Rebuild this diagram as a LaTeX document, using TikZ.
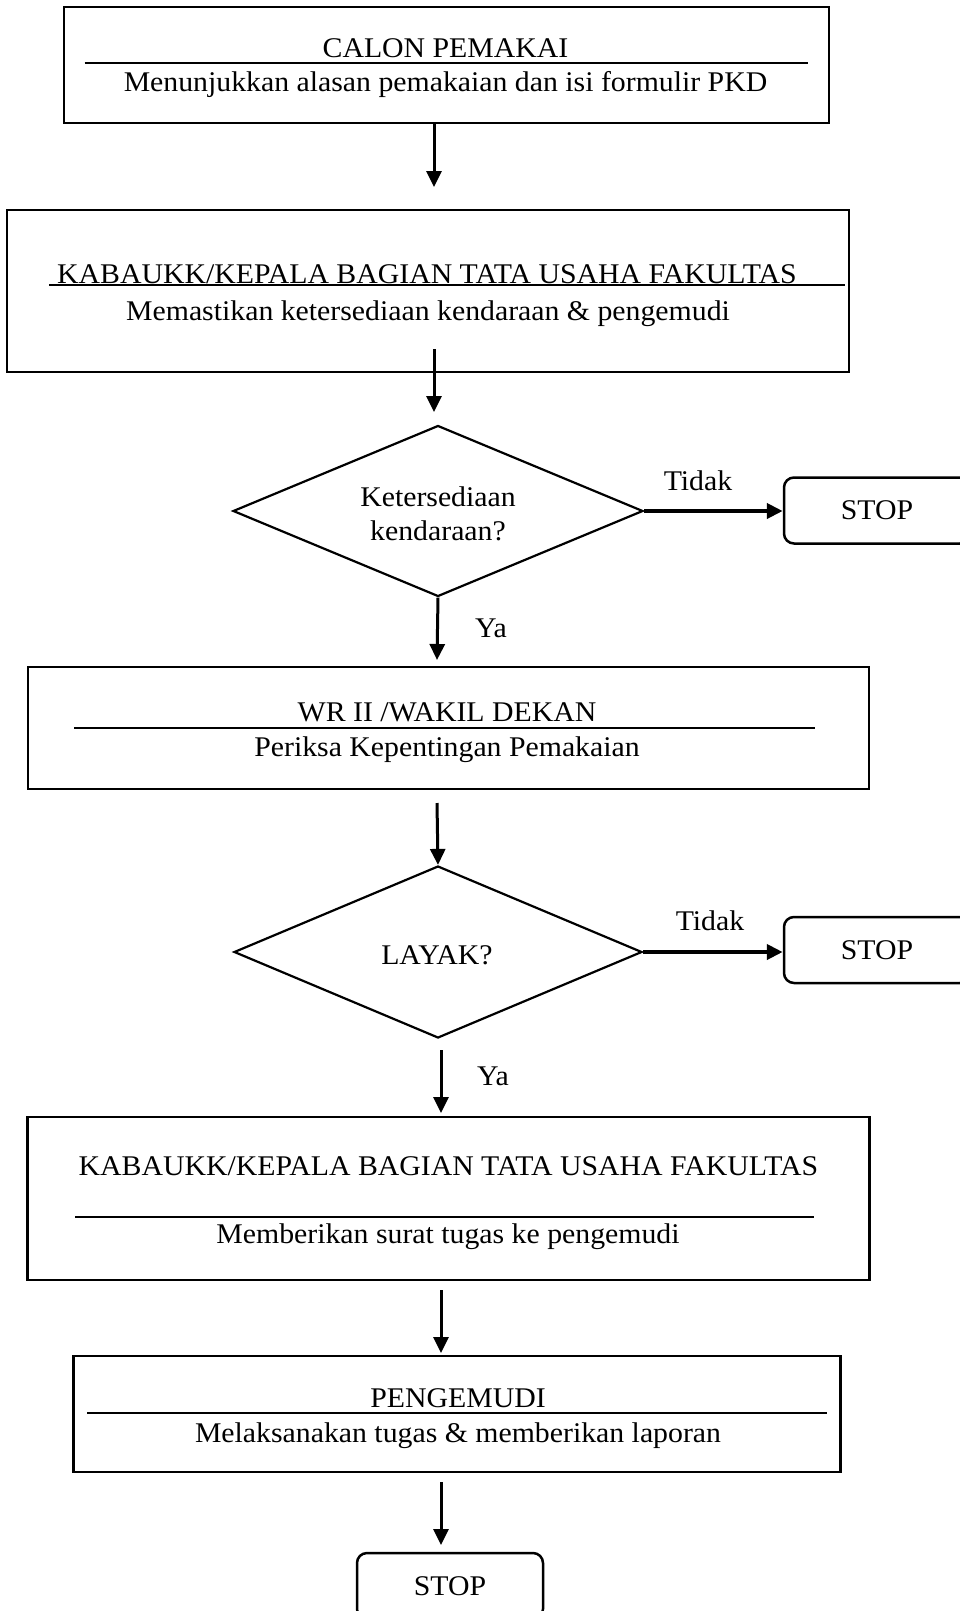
\documentclass[tikz,border=0pt]{standalone}
\usepackage{fontspec}
\setmainfont[FakeStretch=1.045]{Liberation Serif}
\usetikzlibrary{shapes.geometric,arrows.meta}

\tikzset{
  proc/.style={draw, line width=2.5pt, rectangle, inner sep=0pt},
  stopbox/.style={draw, line width=2.5pt, rounded corners=10pt, minimum width=186pt, minimum height=66pt, inner sep=0pt},
  decide/.style={draw, line width=2.2pt, diamond, inner sep=0pt},
  lbl/.style={anchor=base, inner sep=0pt},
  sep/.style={line width=1.4pt},
  arr/.style={line width=3pt, -{Triangle[length=16pt,width=15pt]}},
  arrthick/.style={line width=4pt, -{Triangle[length=16pt,width=15pt]}},
}

\begin{document}
\begin{tikzpicture}[x=1pt, y=-1pt, font=\fontsize{28.5}{34}\selectfont]
    \useasboundingbox (0,0) rectangle (960,1611);

    % boxes
    \node[proc, minimum width=765pt, minimum height=116pt] (calon) at (446.5,65) {};
    \node[proc, minimum width=842pt, minimum height=162pt] (kabag1) at (428,291) {};
    \node[decide, minimum width=410pt, minimum height=171pt] (sedia) at (438,511) {};
    \node[stopbox] (stop1) at (877,510.5) {STOP};
    \node[proc, minimum width=841pt, minimum height=122pt] (wr) at (448.5,728) {};
    \node[decide, minimum width=408pt, minimum height=172pt] (layak) at (438,952) {};
    \node[stopbox] (stop2) at (877,950) {STOP};
    \node[proc, minimum width=842pt, minimum height=163pt] (kabag2) at (448.5,1198.5) {};
    \node[proc, minimum width=767pt, minimum height=116pt] (supir) at (457,1414) {};
    \node[stopbox] (stop3) at (450,1586) {STOP};

    % divider lines
    \draw[sep] (84.5,63) -- (808,63);
    \draw[sep] (49,285) -- (845,285);
    \draw[sep] (74,728) -- (815,728);
    \draw[sep] (75,1217) -- (814,1217);
    \draw[sep] (87,1413) -- (827,1413);

    % texts
    \node[lbl] (calonT) at (445.5,58) {CALON PEMAKAI};
    \node[lbl] (calonD) at (445.5,92) {Menunjukkan alasan pemakaian dan isi formulir PKD};
    \node[lbl] (kabag1T) at (427,283) {KABAUKK/KEPALA BAGIAN TATA USAHA FAKULTAS};
    \node[lbl] (kabag1D) at (428,320) {Memastikan ketersediaan kendaraan \& pengemudi};
    \node[lbl] (sediaT1) at (438,506.7) {Ketersediaan};
    \node[lbl] (sediaT2) at (438,540) {kendaraan?};
    \node[lbl] (tidak1) at (698,490.7) {Tidak};
    \node[lbl] (ya1) at (491,637) {Ya};
    \node[lbl] (wrT) at (447,721.7) {WR II /WAKIL DEKAN};
    \node[lbl] (wrD) at (447,756.7) {Periksa Kepentingan Pemakaian};
    \node[lbl] (layakT) at (437,964) {LAYAK?};
    \node[lbl] (tidak2) at (710,930) {Tidak};
    \node[lbl] (ya2) at (493,1085) {Ya};
    \node[lbl] (kabag2T) at (448.5,1175) {KABAUKK/KEPALA BAGIAN TATA USAHA FAKULTAS};
    \node[lbl] (kabag2D) at (448,1243) {Memberikan surat tugas ke pengemudi};
    \node[lbl] (supirT) at (458,1407) {PENGEMUDI};
    \node[lbl] (supirD) at (458,1442) {Melaksanakan tugas \& memberikan laporan};

    % arrow ends
    \coordinate (a1s) at (434,123);  \coordinate (a1e) at (434,187);
    \coordinate (a2s) at (434,349);  \coordinate (a2e) at (434,412);
    \coordinate (y1e) at (437,660);
    \coordinate (a3s) at (437,803);
    \coordinate (y2s) at (441,1050); \coordinate (y2e) at (441,1113);
    \coordinate (a4s) at (441,1290); \coordinate (a4e) at (441,1353);
    \coordinate (a5s) at (441,1482); \coordinate (a5e) at (441,1545);

    \foreach \s/\e in {a1s/a1e, a2s/a2e, y2s/y2e, a4s/a4e, a5s/a5e} \draw[arr] (\s) -- (\e);
    \draw[arr] (sedia.south) -- (y1e);
    \draw[arr] (a3s) -- (layak.north);
    \draw[arrthick] (sedia.east) -- (sedia.east -| stop1.west);
    \draw[arrthick] (layak.east) -- (layak.east -| stop2.west);
\end{tikzpicture}
\end{document}
